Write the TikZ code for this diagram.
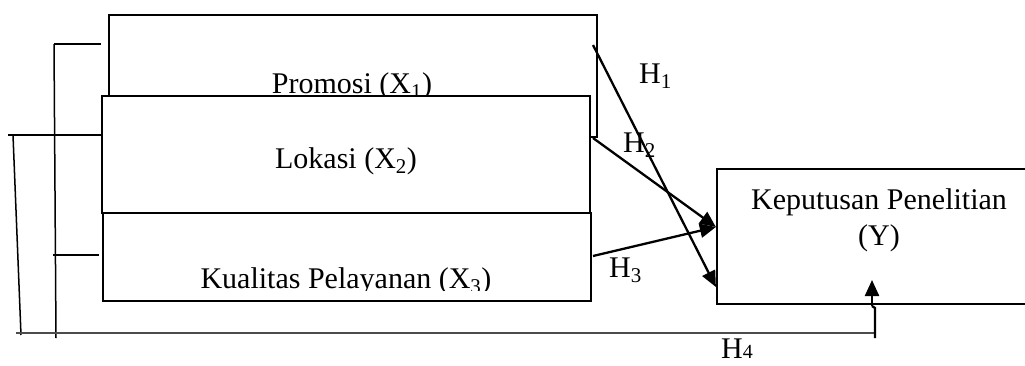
\documentclass[tikz,border=0pt]{standalone}
\usepackage{fontspec}
\setmainfont{Liberation Serif}
\usetikzlibrary{arrows.meta,calc}

\begin{document}
\begin{tikzpicture}[x=1pt,y=-1pt,
  box/.style={draw,line width=2.2pt,fill=white,inner sep=0pt,rectangle},
  lbl/.style={inner sep=0pt,anchor=base,font=\fontsize{30}{36}\selectfont},
  hlbl/.style={inner sep=0pt,anchor=base west,font=\fontsize{30}{36}\selectfont},
  brace/.style={line width=1.5pt},
  link/.style={line width=2.3pt,-{Triangle[length=16pt,width=14pt]}}]
\useasboundingbox (0,0) rectangle (1025,365);

% independent variables, stacked boxes
\node[box,minimum width=488pt,minimum height=122pt] (x1) at (353,76) {};
\node[lbl] (t1) at (352,93) {Promosi (X\textsubscript{1})};
\node[box,minimum width=488pt,minimum height=117pt] (x2) at (346,154.5) {};
\node[lbl] (t2) at (346,168) {Lokasi (X\textsubscript{2})};
\node[box,minimum width=488pt,minimum height=88pt] (x3) at (347,257) {};
\begin{scope}
  \clip (x3.north west) rectangle ($(x3.east)+(0,33)$);
  \node[lbl] (t3) at (346,288) {Kualitas Pelayanan (X\textsubscript{3})};
\end{scope}

% dependent variable
\node[box,minimum width=323pt,minimum height=135pt] (y) at (878.5,236.5) {};
\node[lbl] (ty1) at (879,209) {Keputusan Penelitian};
\node[lbl] (ty2) at (879,245) {(Y)};

% connector end points
\coordinate (h1s) at (593,45);
\coordinate (h2s) at (593,138);
\coordinate (h3s) at (593,256);
\coordinate (h1e) at ($(y.west)+(0,50.5)$);
\coordinate (h23e) at ($(y.west)+(0,-9.5)$);

\draw[link] (h1s) -- (h1e);
\draw[link] (h2s) -- (h23e);
\draw[link] (h3s) -- (h23e);

% brackets on the left joining the variables
\coordinate (a1) at (8,135);
\coordinate (a2) at (54,44);
\coordinate (a3) at (53,255);
\coordinate (b1) at (13,135);
\coordinate (b2) at (21,335);
\coordinate (c1) at (54,44);
\coordinate (c2) at (56,338);
\coordinate (d1) at (16,333);
\coordinate (d2) at (875,333);
\coordinate (e1) at (875,338);
\coordinate (e2) at (875,308);
\coordinate (e3) at (872,306);
\coordinate (e4) at (872,280);

\draw[brace] (a1) -- (x2.west |- a1);
\draw[brace] (a2) -- ($(x1.west |- a2)+(-7,0)$);
\draw[brace] (a3) -- ($(x3.west |- a3)+(-3,0)$);
\draw[brace] (b1) -- (b2);
\draw[brace] (c1) -- (c2);
\draw[line width=1.7pt,black!70] (d1) -- (d2);
\draw[line width=2.3pt] (e1) -- (e2) -- (e3);
\draw[link] (e3) -- (e4);

% hypothesis labels
\node[hlbl] (h1) at (639,83) {H\textsubscript{1}};
\node[hlbl] (h2) at (623,152) {H\textsubscript{2}};
\node[hlbl] (h3) at (609,277) {H\textsubscript{3}};
\node[hlbl] (h4) at (721,358) {H{\fontsize{20}{20}\selectfont 4}};
\end{tikzpicture}
\end{document}
